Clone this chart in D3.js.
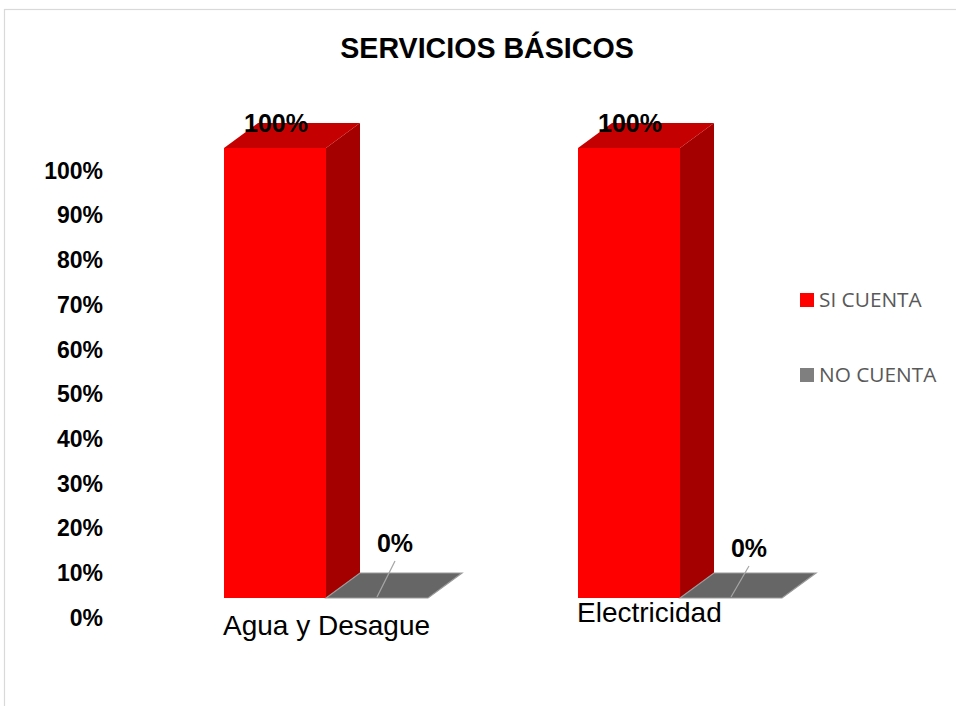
<!DOCTYPE html>
<html>
<head>
<meta charset="utf-8">
<script src="https://cdn.jsdelivr.net/npm/d3@7/dist/d3.min.js"></script>
<style>
  html, body { margin: 0; padding: 0; background: #fff; }
  svg { display: block; }
</style>
</head>
<body>
<svg id="chart" width="956" height="706"></svg>
<script>
// Chart data
const categories = ["Agua y Desague", "Electricidad"];
const seriesNames = ["SI CUENTA", "NO CUENTA"];
const siCuenta = [1.00, 1.00];
const noCuenta = [0.00, 0.00];
const tickValues = [0, 0.1, 0.2, 0.3, 0.4, 0.5, 0.6, 0.7, 0.8, 0.9, 1.0];
const title = "SERVICIOS BÁSICOS";

const seriesValues = [siCuenta, noCuenta];
const colors = {
  "SI CUENTA": { front: "#ff0000", side: "#a40000", top: "#c40000", legend: "#ff0000" },
  "NO CUENTA": { front: "#666666", side: "#555555", top: "#666666", legend: "#7f7f7f" }
};

const svg = d3.select("#chart");
const W = 956, H = 706;
const FONT = "Liberation Sans, Arial, sans-serif";

// Outer chart-area frame
svg.append("rect")
  .attr("x", 4.5).attr("y", 9.5)
  .attr("width", W + 10).attr("height", H + 10)
  .attr("fill", "#fff").attr("stroke", "#d9d9d9").attr("stroke-width", 1.2);

// Title
svg.append("text")
  .attr("x", 487).attr("y", 58)
  .attr("text-anchor", "middle")
  .attr("font-family", FONT)
  .attr("font-weight", "bold").attr("font-size", 28.6)
  .attr("fill", "#000")
  .text(title);

// 3D depth of the bars
const depthX = 34, depthY = -25;

// Scales: value axis on the back wall, bars on the front plane
const yAxisScale = d3.scaleLinear().domain([0, 1]).range([617, 170]);
const yBar = d3.scaleLinear().domain([0, 1]).range([598, 148]);
const x0 = d3.scaleBand().domain(categories).range([170, 878]);
const x1 = d3.scaleBand().domain(seriesNames).range([54, 258]);

// Value axis
const axis = d3.axisLeft(yAxisScale)
  .tickValues(tickValues)
  .tickFormat(d3.format(".0%"))
  .tickSize(0).tickPadding(0);
const axisG = svg.append("g").attr("transform", "translate(103,0)").call(axis);
axisG.select(".domain").remove();
axisG.selectAll("text")
  .attr("font-family", FONT)
  .attr("font-weight", "bold").attr("font-size", 23)
  .attr("fill", "#000")
  .attr("dy", "0.36em");

// Bars
const bars = [];
categories.forEach((c, i) => {
  seriesNames.forEach((s, j) => {
    bars.push({ cat: c, series: s, value: seriesValues[j][i], ci: i });
  });
});

const barG = svg.append("g");
bars.forEach(b => {
  const xl = x0(b.cat) + x1(b.series);
  const xr = xl + x1.bandwidth();
  const yt = yBar(b.value);
  const yb = yBar(0);
  const col = colors[b.series];
  const g = barG.append("g");
  if (yb - yt > 0.5) {
    // front face
    g.append("rect").attr("x", xl).attr("y", yt)
      .attr("width", xr - xl).attr("height", yb - yt)
      .attr("fill", col.front);
    // side face
    g.append("path")
      .attr("d", `M${xr},${yt}L${xr + depthX},${yt + depthY}L${xr + depthX},${yb + depthY}L${xr},${yb}Z`)
      .attr("fill", col.side);
    // top face
    g.append("path")
      .attr("d", `M${xl},${yt}L${xl + depthX},${yt + depthY}L${xr + depthX},${yt + depthY}L${xr},${yt}Z`)
      .attr("fill", col.top);
  } else {
    // zero-height bar: only its flat top is visible
    g.append("path")
      .attr("d", `M${xl},${yt}L${xl + depthX},${yt + depthY}L${xr + depthX},${yt + depthY}L${xr},${yt}Z`)
      .attr("fill", col.top)
      .attr("stroke", "#9a9a9a").attr("stroke-width", 1.2);
  }
});

// Data labels
const fmt = d3.format(".0%");
bars.forEach(b => {
  const xl = x0(b.cat) + x1(b.series);
  const xc = xl + x1.bandwidth() / 2;
  if (b.value > 0) {
    svg.append("text")
      .attr("x", xc + 1).attr("y", yBar(b.value) - 16)
      .attr("text-anchor", "middle")
      .attr("font-family", FONT)
      .attr("font-weight", "bold").attr("font-size", 25)
      .attr("fill", "#000")
      .text(fmt(b.value));
  } else {
    const lx = xc + 18, ly = yBar(b.value) - 46 + b.ci * 5;
    svg.append("line")
      .attr("x1", lx).attr("y1", ly + 9)
      .attr("x2", xc).attr("y2", yBar(b.value) - 1)
      .attr("stroke", "#a6a6a6").attr("stroke-width", 1.2);
    svg.append("text")
      .attr("x", lx).attr("y", ly)
      .attr("text-anchor", "middle")
      .attr("font-family", FONT)
      .attr("font-weight", "bold").attr("font-size", 25)
      .attr("fill", "#000")
      .text(fmt(b.value));
  }
});

// Category labels
categories.forEach((c, i) => {
  svg.append("text")
    .attr("x", x0(c) + x1(seriesNames[0]) - 1)
    .attr("y", i === 0 ? 635 : 622)
    .attr("font-family", FONT)
    .attr("font-size", 28)
    .attr("fill", "#000")
    .text(c);
});

// Legend
const legend = svg.append("g").attr("transform", "translate(800,293)");
seriesNames.forEach((s, j) => {
  const g = legend.append("g").attr("transform", `translate(0,${j * 75})`);
  g.append("rect").attr("width", 14).attr("height", 14).attr("fill", colors[s].legend);
  g.append("text")
    .attr("x", 19).attr("y", 14)
    .attr("font-family", "Open Sans, sans-serif")
    .attr("font-size", 20.8)
    .attr("fill", "#595959")
    .text(s);
});
</script>
</body>
</html>
